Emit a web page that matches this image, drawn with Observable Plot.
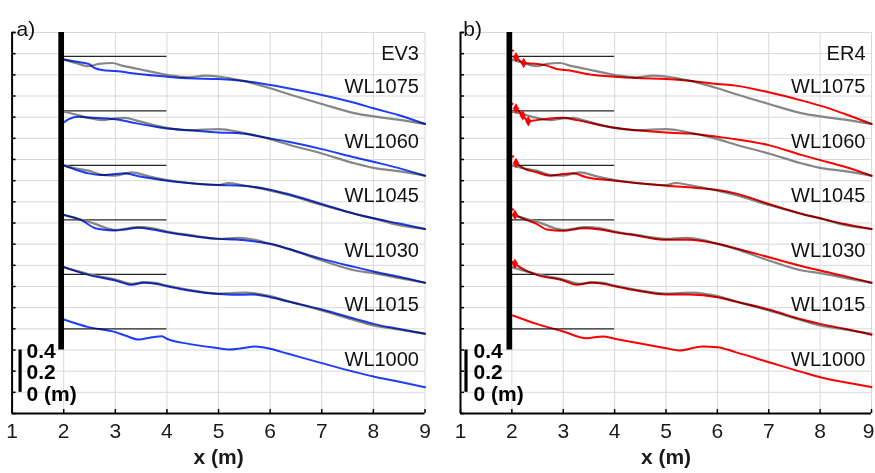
<!DOCTYPE html>
<html><head><meta charset="utf-8">
<script src="https://cdn.jsdelivr.net/npm/d3@7"></script>
<script src="https://cdn.jsdelivr.net/npm/@observablehq/plot@0.6"></script>
<style>
body{margin:0;background:#fff;}
#wrap{display:flex;width:875px;height:473px;overflow:hidden;}
#wrap svg{overflow:visible;}
</style></head><body><div id="wrap"></div>
<script>
// ---------- data ----------
const waterLevels = [1.000, 1.015, 1.030, 1.045, 1.060, 1.075];
const levelNames  = ["WL1000","WL1015","WL1030","WL1045","WL1060","WL1075"];
const profileOffset = 0.5;            // stacking offset between profiles (m)
const caseNames = ["EV3", "ER4"];
const panelTags = ["a)", "b)"];
const xTickValues = [1,2,3,4,5,6,7,8,9];
const scaleBarValues = [0, 0.2, 0.4];
const scaleBarLabels = ["0 (m)", "0.2", "0.4"];
const waterLineX = [2, 4];
const seawall = {x1: 1.905, x2: 2.015, zBottom: 0.8};

// reference (grey) profiles, [x (m), z (m)]
const ref1015 = [[2.00,1.083],[2.48,1.017],[3.00,0.966],[3.32,0.925],[3.55,0.941],[3.77,0.935],[4.00,0.909],[4.42,0.869],[5.00,0.834],[5.52,0.843],[6.00,0.809],[6.35,0.761],[7.00,0.673],[7.65,0.579],[8.00,0.531],[8.48,0.494],[9.00,0.453]];
const ref1030 = [[2.00,1.077],[2.35,1.030],[2.61,0.992],[2.81,0.954],[3.00,0.935],[3.45,0.961],[3.71,0.951],[4.00,0.920],[4.42,0.888],[5.00,0.850],[5.39,0.860],[5.71,0.841],[6.00,0.803],[6.35,0.756],[7.00,0.646],[7.65,0.551],[8.00,0.526],[8.48,0.482],[9.00,0.435]];
const ref1045 = [[2.00,1.045],[2.23,1.017],[2.48,0.995],[2.74,0.954],[3.00,0.947],[3.32,0.979],[3.65,0.941],[4.00,0.906],[4.42,0.878],[5.00,0.859],[5.19,0.878],[5.45,0.859],[6.00,0.806],[6.35,0.765],[7.00,0.670],[7.65,0.585],[8.00,0.544],[8.48,0.481],[9.00,0.443]];
const ref1060 = [[2.00,1.051],[2.23,1.025],[2.48,0.994],[2.74,0.972],[3.00,0.988],[3.19,0.994],[3.45,0.962],[4.00,0.899],[4.42,0.877],[5.00,0.887],[5.45,0.855],[6.00,0.792],[6.35,0.742],[7.00,0.657],[7.65,0.562],[8.00,0.521],[8.48,0.490],[9.00,0.446]];
const ref1075 = [[2.00,1.044],[2.23,1.012],[2.48,0.981],[2.68,1.003],[2.94,1.012],[3.13,0.987],[3.45,0.955],[4.00,0.899],[4.42,0.877],[4.74,0.892],[5.00,0.883],[5.45,0.845],[6.00,0.773],[6.35,0.719],[7.00,0.625],[7.65,0.536],[8.00,0.508],[8.48,0.477],[9.00,0.436]];

// EV3 (blue) profiles
const ev1000 = [[2.00,1.088],[2.48,1.016],[3.00,0.969],[3.19,0.937],[3.45,0.899],[3.71,0.921],[3.90,0.931],[4.00,0.906],[4.42,0.858],[5.00,0.817],[5.19,0.805],[5.45,0.817],[5.71,0.833],[6.00,0.811],[6.35,0.764],[7.00,0.676],[7.65,0.591],[8.00,0.550],[8.48,0.502],[9.00,0.449]];
const ev1015 = [[2.00,1.083],[2.48,1.010],[3.00,0.957],[3.32,0.916],[3.55,0.935],[3.77,0.925],[4.00,0.903],[4.42,0.862],[5.00,0.828],[5.32,0.821],[5.65,0.824],[6.00,0.799],[6.35,0.758],[7.00,0.683],[7.65,0.594],[8.00,0.547],[8.48,0.500],[9.00,0.453]];
const ev1030 = [[2.00,1.077],[2.35,1.024],[2.61,0.951],[2.74,0.939],[3.00,0.929],[3.19,0.939],[3.45,0.954],[3.71,0.939],[4.00,0.913],[4.42,0.882],[5.00,0.850],[5.32,0.844],[5.71,0.825],[6.00,0.803],[6.35,0.756],[7.00,0.661],[7.65,0.583],[8.00,0.542],[8.48,0.494],[9.00,0.435]];
const ev1045 = [[2.00,1.045],[2.23,1.004],[2.48,0.969],[2.74,0.954],[3.00,0.963],[3.19,0.969],[3.45,0.941],[4.00,0.900],[4.42,0.878],[5.00,0.859],[5.45,0.853],[6.00,0.815],[6.35,0.774],[7.00,0.680],[7.65,0.585],[8.00,0.544],[8.48,0.497],[9.00,0.443]];
const ev1060 = [[2.00,0.950],[2.10,0.981],[2.29,1.003],[2.48,0.997],[3.00,0.981],[3.26,0.956],[4.00,0.893],[4.42,0.877],[5.00,0.855],[5.45,0.846],[6.00,0.799],[6.35,0.767],[7.00,0.698],[7.65,0.619],[8.00,0.578],[8.48,0.521],[9.00,0.446]];
const ev1075 = [[2.00,1.044],[2.23,1.025],[2.48,1.003],[2.61,0.962],[2.74,0.946],[3.00,0.936],[3.45,0.908],[4.00,0.883],[4.42,0.867],[5.00,0.861],[5.45,0.845],[6.00,0.804],[6.35,0.773],[7.00,0.710],[7.65,0.634],[8.00,0.584],[8.48,0.521],[9.00,0.436]];

// ER4 (red) profiles
const er1000 = [[2.02,1.126],[2.48,1.047],[3.00,0.975],[3.45,0.912],[3.77,0.928],[4.00,0.906],[4.42,0.868],[5.00,0.817],[5.26,0.795],[5.71,0.833],[6.00,0.827],[6.35,0.780],[7.00,0.685],[7.65,0.591],[8.00,0.543],[8.48,0.496],[9.00,0.449]];
const er1015 = [[2.06,1.114],[2.23,1.061],[2.48,1.010],[3.00,0.957],[3.26,0.916],[3.55,0.935],[3.77,0.925],[4.00,0.903],[4.42,0.862],[5.00,0.824],[5.45,0.824],[6.00,0.799],[6.35,0.758],[7.00,0.683],[7.65,0.588],[8.00,0.547],[8.48,0.500],[9.00,0.443]];
const er1030 = [[2.06,1.077],[2.23,1.039],[2.48,0.992],[2.68,0.939],[3.00,0.926],[3.39,0.951],[3.71,0.939],[4.00,0.913],[4.42,0.882],[5.00,0.841],[5.45,0.841],[6.00,0.803],[6.35,0.762],[7.00,0.677],[7.65,0.592],[8.00,0.551],[8.48,0.498],[9.00,0.435]];
const er1045 = [[2.08,1.067],[2.23,1.017],[2.48,0.979],[2.74,0.947],[3.00,0.963],[3.19,0.969],[3.45,0.932],[4.00,0.900],[4.42,0.878],[5.00,0.853],[5.45,0.837],[6.00,0.812],[6.35,0.780],[7.00,0.680],[7.65,0.585],[8.00,0.544],[8.48,0.490],[9.00,0.443]];
const er1060 = [[2.08,1.082],[2.21,1.019],[2.32,0.962],[2.48,0.972],[2.74,0.988],[3.00,0.994],[3.26,0.972],[4.00,0.899],[4.42,0.877],[5.00,0.855],[5.45,0.846],[6.00,0.814],[6.35,0.792],[7.00,0.736],[7.65,0.641],[8.00,0.594],[8.48,0.531],[9.00,0.446]];
const er1075 = [[2.08,1.066],[2.23,1.012],[2.48,1.003],[2.68,0.987],[2.87,0.955],[3.13,0.940],[3.45,0.908],[4.00,0.883],[4.42,0.870],[5.00,0.861],[5.45,0.845],[6.00,0.814],[6.35,0.798],[7.00,0.735],[7.65,0.656],[8.00,0.609],[8.48,0.530],[9.00,0.436]];

// ER4 start markers: [profile index, x, z]
const erMarkers = [[1,2.06,1.114],[2,2.06,1.077],[3,2.08,1.067],[4,2.08,1.082],[4,2.21,1.019],[4,2.32,0.962],[5,2.08,1.066],[5,2.23,1.012]];
const erSpecks  = [[1,2.02,1.129],[2,2.02,1.128],[3,2.02,1.128],[4,2.01,1.126],[5,2.02,1.129]];

const refProfiles = [null, ref1015, ref1030, ref1045, ref1060, ref1075];
const evProfiles  = [ev1000, ev1015, ev1030, ev1045, ev1060, ev1075];
const erProfiles  = [er1000, er1015, er1030, er1045, er1060, er1075];

// ---------- helpers ----------
const toRows = (profiles) => profiles.flatMap((pts, i) =>
  pts ? pts.map(([x, z]) => ({i, x, y: z + i * profileOffset})) : []);
const pointRows = (arr) => arr.map(([i, x, z]) => ({x, y: z + i * profileOffset}));

const H = 473, MT = 32, MB = 60;
const yMin = 0.2, yMax = 3.8;
const yGrid = d3.range(1, 20).map(k => +(k * 0.2).toFixed(1));
const FONT = "'Liberation Sans', Arial, Helvetica, sans-serif";

function panel({k, color, profiles, width, ml, mr, tagDx, barDx, labDx, lastTickDx, markers, specks}) {
  const fw = width - ml - mr, fh = H - MT - MB;
  const waterRows = waterLevels.map((w, i) => ({x1: waterLineX[0], x2: waterLineX[1], y: w + i * profileOffset}));
  const labelRows = levelNames.map((t, i) => ({t, y: waterLevels[i] + i * profileOffset - 0.29}));
  const marks = [
    Plot.gridX(xTickValues, {stroke: "#d9d9d9", strokeOpacity: 1, strokeWidth: 1}),
    Plot.gridY(yGrid, {stroke: "#d9d9d9", strokeOpacity: 1, strokeWidth: 1}),
    Plot.ruleY(waterRows, {x1: "x1", x2: "x2", y: "y", stroke: "#262626", strokeWidth: 1.3}),
    Plot.line(toRows(refProfiles), {x: "x", y: "y", z: "i", stroke: "#868686", strokeWidth: 2.2, curve: "monotone-x"}),
    Plot.line(toRows(profiles), {x: "x", y: "y", z: "i", stroke: color, strokeWidth: 2, curve: "monotone-x", mixBlendMode: "multiply"}),
  ];
  if (markers) {
    marks.push(Plot.dot(pointRows(markers), {x: "x", y: "y", symbol: "diamond", r: 3.2, fill: color, stroke: "none"}));
    marks.push(Plot.dot(pointRows(specks), {x: "x", y: "y", r: 1.2, fill: color, stroke: "none"}));
  }
  marks.push(
    Plot.rect([seawall], {x1: "x1", x2: "x2", y1: () => seawall.zBottom, y2: () => yMax, fill: "#000"}),
    // axes lines and inward ticks
    Plot.ruleX([1], {stroke: "#000", strokeWidth: 2}),
    Plot.ruleY([yMin], {stroke: "#000", strokeWidth: 2}),
    Plot.tickY(yGrid.concat([yMax]), {y: d => d, insetRight: fw - 4, stroke: "#000", strokeWidth: 1.5}),
    Plot.tickX(xTickValues, {x: d => d, insetTop: fh - 4, stroke: "#000", strokeWidth: 1.5}),
    Plot.text(xTickValues.slice(0, -1), {x: d => d, frameAnchor: "bottom", dy: 24.5, text: d => String(d), fontSize: 21, fill: "#1a1a1a"}),
    Plot.text(xTickValues.slice(-1), {x: d => d, frameAnchor: "bottom", dy: 24.5, dx: lastTickDx, text: d => String(d), fontSize: 21, fill: "#1a1a1a"}),
    Plot.text(["x (m)"], {frameAnchor: "bottom", dy: 50, fontSize: 21, fontWeight: "bold", fill: "#1a1a1a"}),
    // scale bar
    Plot.ruleX([1], {y1: () => 0.4, y2: () => 0.8, dx: barDx, stroke: "#000", strokeWidth: 3.2}),
    Plot.text(scaleBarValues, {x: () => 1, y: d => 0.4 + d, dx: labDx, dy: 1.5, text: (d, j) => scaleBarLabels[j], textAnchor: "start", fontSize: 21, fontWeight: "bold", fill: "#000"}),
    // labels
    Plot.text(labelRows, {x: () => 9, y: "y", text: "t", textAnchor: "end", dx: -6, fontSize: 20, fill: "#111", letterSpacing: "0.9px"}),
    Plot.text([caseNames[k]], {frameAnchor: "top-right", dx: -6, dy: 13.5, textAnchor: "end", fontSize: 20, fill: "#111"}),
    Plot.text([panelTags[k]], {frameAnchor: "top-left", dx: tagDx, dy: -11.5, textAnchor: "start", fontSize: 21, fill: "#111"})
  );
  return Plot.plot({
    width, height: H, marginLeft: ml, marginRight: mr, marginTop: MT, marginBottom: MB,
    x: {domain: [1, 9], axis: null},
    y: {domain: [yMin, yMax], axis: null},
    style: {fontFamily: FONT, background: "transparent", overflow: "visible"},
    marks
  });
}

const wrap = document.getElementById("wrap");
wrap.append(panel({k: 0, color: "#1f3dff", profiles: evProfiles, width: 437, ml: 11.6, mr: 12.5, tagDx: 4.4, barDx: 8, labDx: 14.5, lastTickDx: 0}));
wrap.append(panel({k: 1, color: "#ff0000", profiles: erProfiles, width: 438, ml: 23, mr: 4, tagDx: 2.7, barDx: 5.5, labDx: 13, lastTickDx: -3, markers: erMarkers, specks: erSpecks}));
</script>
</body></html>
